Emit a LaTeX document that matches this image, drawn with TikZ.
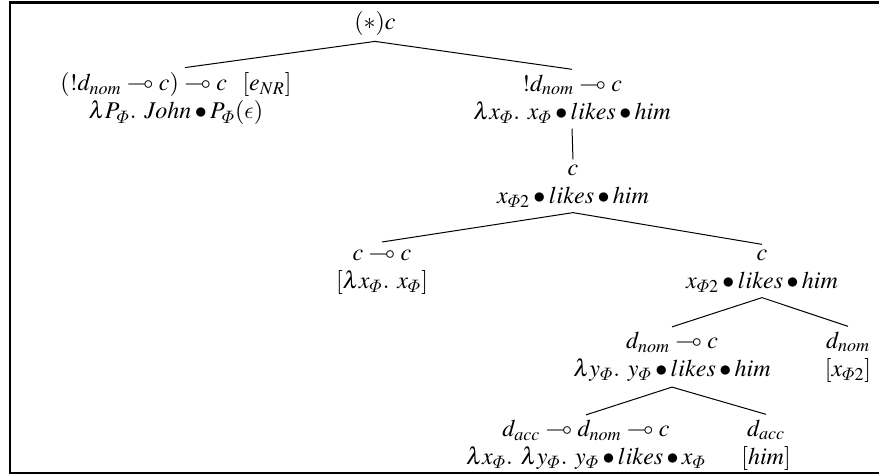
\documentclass[tikz,border=0pt]{standalone}
\usepackage{amssymb}
\usepackage{mathptmx}
\usetikzlibrary{positioning}

\DeclareSymbolFont{cmletters}{OML}{cmm}{m}{it}
\DeclareMathSymbol{\itPhi}{\mathord}{cmletters}{"08}
\DeclareMathSymbol{\lunateps}{\mathord}{cmletters}{"0F}

\begin{document}
\begin{tikzpicture}[
  x=0.5pt, y=-0.5pt,
  lex node/.style={align=center, inner sep=2.5pt, font=\fontsize{12}{14}\selectfont},
  branch/.style={line width=0.5pt},
  frame line/.style={line width=1.3pt},
]
\useasboundingbox (0,0) rectangle (879,475);
\draw[frame line] (879,2.5) -- (10,2.5) -- (10,473) -- (879,473);

% root and first level
\node[lex node] (root) at (375,24) {$(\ast)c$};
\node[lex node] (jn) at (176,99) {$(!d_{nom} \multimap c) \multimap c$\ \ $[e_{NR}]$\\
  $\lambda P_{\itPhi}.\ John \bullet P_{\itPhi}(\lunateps)$};
\node[lex node] (hd) at (572,99) {$!d_{nom} \multimap c$\\
  $\lambda x_{\itPhi}.\ x_{\itPhi} \bullet likes \bullet him$};

% second level
\node[lex node] (c1) at (573,186) {$c$\\ $x_{\itPhi 2} \bullet likes \bullet him$};

% third level
\node[lex node] (id) at (382,271) {$c \multimap c$\\ $[\lambda x_{\itPhi}.\ x_{\itPhi}]$};
\node[lex node] (c2) at (762,271) {$c$\\ $x_{\itPhi 2} \bullet likes \bullet him$};

% fourth level
\node[lex node] (vt) at (672,357) {$d_{nom} \multimap c$\\
  $\lambda y_{\itPhi}.\ y_{\itPhi} \bullet likes \bullet him$};
\node[lex node] (sj) at (848,357) {$d_{nom}$\\ $[x_{\itPhi 2}]$};

% fifth level
\node[lex node] (tv) at (586,445) {$d_{acc} \multimap d_{nom} \multimap c$\\
  $\lambda x_{\itPhi}.\ \lambda y_{\itPhi}.\ y_{\itPhi} \bullet likes \bullet x_{\itPhi}$};
\node[lex node] (ob) at (766,445) {$d_{acc}$\\ $[him]$};

% branches
\draw[branch] (root.south) -- ([xshift=4.5pt]jn.north);
\draw[branch] (root.south) -- (hd.north);
\draw[branch] (hd.south) -- (c1.north);
\draw[branch] (c1.south) -- (id.north);
\draw[branch] (c1.south) -- (c2.north);
\draw[branch] (c2.south) -- (vt.north);
\draw[branch] (c2.south) -- (sj.north);
\draw[branch] (vt.south) -- (tv.north);
\draw[branch] (vt.south) -- (ob.north);

\end{tikzpicture}
\end{document}
